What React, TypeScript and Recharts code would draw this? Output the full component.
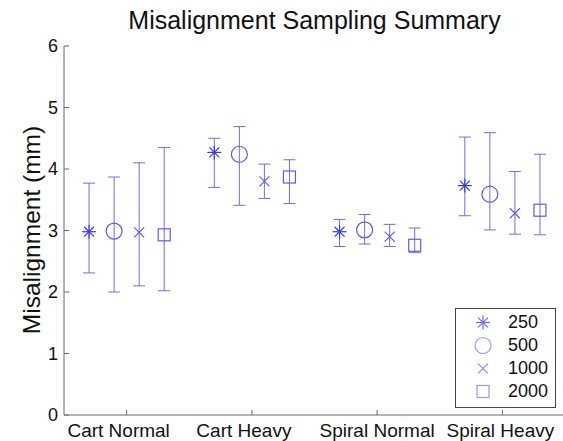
import React from 'react';
import { ScatterChart, Scatter, XAxis, YAxis, ErrorBar, Legend } from 'recharts';

const categories = ['Cart Normal', 'Cart Heavy', 'Spiral Normal', 'Spiral Heavy'];
const seriesNames = ['250', '500', '1000', '2000'];
const groupOffsets = [-0.3, -0.1, 0.1, 0.3];
const yTicks = [0, 1, 2, 3, 4, 5, 6];

const mean250 = [2.98, 4.27, 2.98, 3.73];
const lower250 = [2.31, 3.7, 2.74, 3.24];
const upper250 = [3.77, 4.5, 3.18, 4.52];

const mean500 = [2.99, 4.24, 3.01, 3.59];
const lower500 = [2.0, 3.41, 2.78, 3.01];
const upper500 = [3.87, 4.69, 3.26, 4.59];

const mean1000 = [2.97, 3.8, 2.9, 3.28];
const lower1000 = [2.1, 3.52, 2.74, 2.94];
const upper1000 = [4.1, 4.08, 3.1, 3.96];

const mean2000 = [2.93, 3.87, 2.76, 3.33];
const lower2000 = [2.02, 3.44, 2.64, 2.93];
const upper2000 = [4.35, 4.15, 3.04, 4.24];

const means = [mean250, mean500, mean1000, mean2000];
const lowers = [lower250, lower500, lower1000, lower2000];
const uppers = [upper250, upper500, upper1000, upper2000];

const FONT = '"Liberation Sans", Arial, Helvetica, sans-serif';
const LINE = '#6e6ee8';
const MARK = '#5c5ce6';
const STAR = '#3a3ae0';
const AXIS = '#6a6a6a';
const LABEL_SHIFT = [-8, -8, 0, -2];

const seriesData = seriesNames.map((_, s) =>
  categories.map((_, i) => ({
    x: i + 1 + groupOffsets[s],
    y: means[s][i],
    err: [means[s][i] - lowers[s][i], uppers[s][i] - means[s][i]],
  }))
);

function Marker({ kind, cx, cy, color }: { kind: number; cx: number; cy: number; color?: string }) {
  if (kind === 0) {
    const r = 7;
    const d = r * 0.707;
    const c = color || STAR;
    return (
      <g stroke={c} strokeWidth={1.2} fill="none">
        <line x1={cx - r} y1={cy} x2={cx + r} y2={cy} />
        <line x1={cx} y1={cy - r} x2={cx} y2={cy + r} />
        <line x1={cx - d} y1={cy - d} x2={cx + d} y2={cy + d} />
        <line x1={cx - d} y1={cy + d} x2={cx + d} y2={cy - d} />
      </g>
    );
  }
  if (kind === 1) {
    return <circle cx={cx} cy={cy} r={8} stroke={color || MARK} strokeWidth={1.2} fill="none" />;
  }
  if (kind === 2) {
    const d = 5;
    return (
      <g stroke={color || MARK} strokeWidth={1.2} fill="none">
        <line x1={cx - d} y1={cy - d} x2={cx + d} y2={cy + d} />
        <line x1={cx - d} y1={cy + d} x2={cx + d} y2={cy - d} />
      </g>
    );
  }
  return <rect x={cx - 6} y={cy - 6} width={12} height={12} stroke={color || MARK} strokeWidth={1.2} fill="none" />;
}

const XTick = (props: any) => {
  const { x, y, payload } = props;
  const idx = payload.value - 1;
  return (
    <g>
      <line x1={x} y1={y} x2={x} y2={y - 5} stroke={AXIS} strokeWidth={1} />
      <text x={x + (LABEL_SHIFT[idx] || 0)} y={y + 22} textAnchor="middle" fontSize={19} fontFamily={FONT} fill="#111">
        {categories[idx]}
      </text>
    </g>
  );
};

const YTick = (props: any) => {
  const { x, y, payload } = props;
  return (
    <g>
      <line x1={x} y1={y} x2={x + 5} y2={y} stroke={AXIS} strokeWidth={1} />
      <text x={x - 6} y={y} dy="0.36em" textAnchor="end" fontSize={18} fontFamily={FONT} fill="#111">
        {payload.value}
      </text>
    </g>
  );
};

const LegendBox = () => (
  <div
    style={{
      width: 99,
      height: 96,
      border: '1px solid #444',
      background: '#fff',
      fontFamily: FONT,
      fontSize: 18,
      color: '#111',
      boxSizing: 'content-box',
      paddingTop: 2,
    }}
  >
    {seriesNames.map((n, k) => (
      <div key={n} style={{ display: 'flex', alignItems: 'center', height: 23 }}>
        <svg width={52} height={23} style={{ display: 'block' }}>
          <Marker kind={k} cx={27} cy={11.5} color={k === 0 ? '#6a6aee' : '#9a9aea'} />
        </svg>
        <span style={{ lineHeight: '23px' }}>{n}</span>
      </div>
    ))}
  </div>
);

export default function App() {
  return (
    <div style={{ position: 'absolute', left: 0, top: 0, width: 563, height: 441, overflow: 'hidden', background: '#fff' }}>
      <div
        style={{
          position: 'absolute',
          left: 64,
          top: 5,
          width: 501,
          textAlign: 'center',
          fontFamily: FONT,
          fontSize: 25,
          color: '#111',
          lineHeight: '30px',
        }}
      >
        Misalignment Sampling Summary
      </div>
      <ScatterChart width={570} height={441} margin={{ top: 46, right: 5, left: 0, bottom: 0 }}>
        <XAxis
          type="number"
          dataKey="x"
          domain={[0.5, 4.5]}
          ticks={[1, 2, 3, 4]}
          allowDataOverflow
          height={26}
          tickSize={0}
          tickMargin={0}
          tickLine={false}
          tick={<XTick />}
          axisLine={{ stroke: AXIS }}
        />
        <YAxis
          type="number"
          dataKey="y"
          domain={[0, 6]}
          ticks={yTicks}
          allowDataOverflow
          width={64}
          tickSize={0}
          tickMargin={0}
          tickLine={false}
          tick={<YTick />}
          axisLine={{ stroke: AXIS }}
          label={() => (
            <text
              x={31}
              y={230}
              transform="rotate(-90 31 230)"
              textAnchor="middle"
              dominantBaseline="central"
              fontSize={24.5}
              fontFamily={FONT}
              fill="#111"
            >
              Misalignment (mm)
            </text>
          )}
        />
        <Legend
          layout="vertical"
          align="center"
          verticalAlign="middle"
          wrapperStyle={{ left: 455, top: 308, width: 101, height: 99 }}
          content={() => <LegendBox />}
        />
        {seriesNames.map((n, k) => (
          <Scatter
            key={n}
            name={n}
            data={seriesData[k]}
            isAnimationActive={false}
            shape={(p: any) => <Marker kind={k} cx={p.cx} cy={p.cy} />}
          >
            <ErrorBar dataKey="err" direction="y" width={6} stroke={LINE} strokeWidth={1} isAnimationActive={false} />
          </Scatter>
        ))}
      </ScatterChart>
    </div>
  );
}
